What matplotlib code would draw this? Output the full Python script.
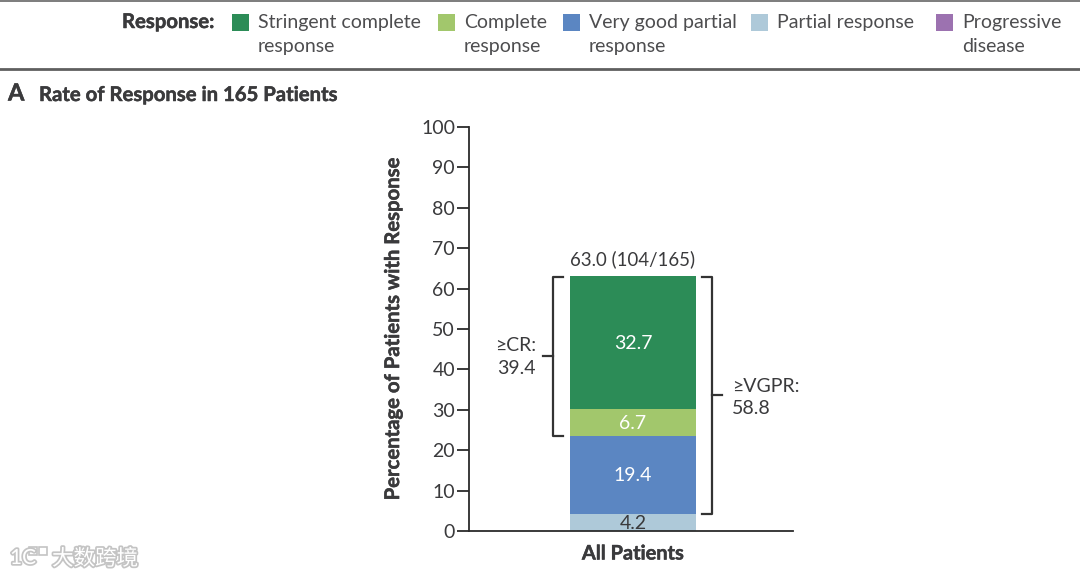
import matplotlib
matplotlib.use("Agg")
import matplotlib.pyplot as plt
import matplotlib.patheffects as pe
from matplotlib.patches import Rectangle, Circle

plt.rcParams['font.family'] = ['Lato', 'DejaVu Sans']

W, H = 1080, 579
TXT = "#3a3a3c"

# values, bottom to top
segment_values = [4.2, 19.4, 6.7, 32.7]
segment_colors = ["#aec9d9", "#5b86c2", "#a2c76c", "#2c8c57"]
segment_text = ["#3a3a3c", "white", "white", "white"]
yticks = list(range(0, 101, 10))
total_label = "63.0 (104/165)"

legend_names = ["Stringent complete\nresponse", "Complete\nresponse", "Very good partial\nresponse",
                "Partial response", "Progressive\ndisease"]
legend_colors = ["#2c8c57", "#a2c76c", "#5b86c2", "#aec9d9", "#9c72b0"]
legend_box_x = [232, 438, 563, 751, 936]

fig = plt.figure(figsize=(W / 100, H / 100), dpi=100)


def fx(px):
    return px / W


def fy(py):
    return 1 - py / H


# slightly thickened bold, the Lato bold is lighter than the original face
heavy = [pe.withStroke(linewidth=0.35, foreground=TXT)]

# header
fig.add_artist(plt.Line2D([0, 1], [fy(0.5), fy(0.5)], color="#666666", lw=1.2))
fig.add_artist(plt.Line2D([0, 1], [fy(69), fy(69)], color="#5f5f5f", lw=2))
fig.text(fx(122), fy(22), "Response:", fontsize=14.6, fontweight="bold", color=TXT, va="center", path_effects=heavy)
for name, col, bx in zip(legend_names, legend_colors, legend_box_x):
    fig.add_artist(Rectangle((fx(bx), fy(31)), 17 / W, 17 / H, color=col, lw=0))
    fig.text(fx(bx + 26), fy(14), name, fontsize=14, color="#4d4d4f", va="top", linespacing=1.5)

fig.text(fx(8), fy(93), "A", fontsize=17, fontweight="bold", color=TXT, va="center", path_effects=heavy)
fig.text(fx(39), fy(95), "Rate of Response in 165 Patients", fontsize=14.6, fontweight="bold", color=TXT, va="center",
         path_effects=heavy)

# main axes, lined up with the pixel positions of the reference
ax = fig.add_axes([fx(469), fy(531), 324 / W, 404 / H])
ax.set_xlim(-1.302, 1.27)
ax.set_ylim(0, 100)

bottom = 0
for val, col, tc in zip(segment_values, segment_colors, segment_text):
    ax.bar(0, val, bottom=bottom, width=1, color=col, linewidth=0)
    ax.text(0, bottom + val / 2 - 0.25, f"{val}", ha="center", va="center", color=tc, fontsize=14)
    bottom += val

ax.text(-0.005, 67.3, total_label, ha="center", va="center", color=TXT, fontsize=13.4)

for s in ["top", "right"]:
    ax.spines[s].set_visible(False)
for s in ["left", "bottom"]:
    ax.spines[s].set_linewidth(1.3)
    ax.spines[s].set_color("#2b2b2b")
ax.set_xticks([0])
ax.set_xticklabels(["All Patients"], fontsize=14.4, fontweight="bold", color=TXT, path_effects=heavy)
ax.tick_params(axis="x", length=0, pad=9)
ax.set_yticks(yticks)
ax.tick_params(axis="y", direction="out", length=9, width=1.3, color="#2b2b2b", labelsize=14, labelcolor=TXT, pad=1)
ax.set_ylabel("Percentage of Patients with Response", fontsize=14.6, fontweight="bold", color=TXT, labelpad=13,
              path_effects=heavy)

# brackets
cr_top = 63.0
cr_bottom = segment_values[0] + segment_values[1]
vg_bottom = segment_values[0]
lx, rx = -0.635, 0.63
tip = 0.08
ax.plot([lx + tip, lx, lx, lx + tip], [cr_top - 0.2, cr_top - 0.2, cr_bottom - 0.2, cr_bottom - 0.2], color="#333333", lw=1.6)
ax.plot([lx, lx - 0.08], [(cr_top + cr_bottom) / 2] * 2, color="#333333", lw=1.6)
ax.plot([rx - tip, rx, rx, rx - tip], [cr_top - 0.2, cr_top - 0.2, vg_bottom, vg_bottom], color="#333333", lw=1.6)
ax.plot([rx, rx + 0.08], [(cr_top + vg_bottom) / 2] * 2, color="#333333", lw=1.6)
ax.text(-0.77, 43.1, "≥CR:\n39.4", ha="right", va="center", fontsize=14, color=TXT, linespacing=1.4)
ax.text(0.785, 33.0, "≥VGPR:\n58.8", ha="left", va="center", fontsize=14, color=TXT, linespacing=1.4)

# watermark
glow = [pe.withStroke(linewidth=2.5, foreground="#c4c4c4")]
fig.text(fx(52), fy(559), "大数跨境", family=["Noto Sans CJK SC", "DejaVu Sans"], fontsize=15.5, color="white",
         va="center", path_effects=glow)
fig.text(fx(10), fy(558), "1C", fontsize=15, color="white", va="center", path_effects=glow)
for cx in (33, 43):
    fig.add_artist(Rectangle((fx(cx - 4), fy(555)), 8 / W, 8 / H, fc="none", ec="#c4c4c4", lw=1.2))

fig.savefig("out.png", dpi=100)
